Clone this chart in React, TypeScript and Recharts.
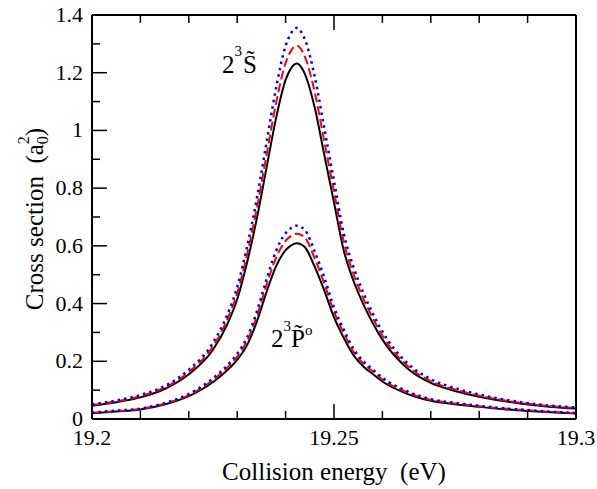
import { Line, LineChart, XAxis, YAxis } from "recharts";

// collision energy (eV)
const energy = [
  19.2, 19.205, 19.21, 19.215, 19.22, 19.225, 19.228, 19.23, 19.232, 19.234,
  19.236, 19.238, 19.24, 19.241, 19.2423, 19.2435, 19.244, 19.246, 19.248,
  19.25, 19.252, 19.254, 19.256, 19.258, 19.26, 19.265, 19.27, 19.275, 19.28,
  19.285, 19.29, 19.295, 19.3,
];

// 2^3 S~ resonance
const sBlack = [
  0.046, 0.058, 0.075, 0.104, 0.155, 0.24, 0.33, 0.415, 0.54, 0.69, 0.865,
  1.04, 1.175, 1.212, 1.232, 1.212, 1.195, 1.08, 0.915, 0.75, 0.585, 0.48,
  0.4, 0.333, 0.275, 0.178, 0.125, 0.097, 0.077, 0.062, 0.05, 0.042, 0.036,
];
const sRed = [
  0.048, 0.061, 0.079, 0.109, 0.163, 0.252, 0.347, 0.436, 0.567, 0.725,
  0.908, 1.092, 1.234, 1.273, 1.294, 1.273, 1.255, 1.134, 0.961, 0.788,
  0.614, 0.504, 0.42, 0.35, 0.289, 0.187, 0.131, 0.102, 0.081, 0.065, 0.053,
  0.044, 0.038,
];
const sBlue = [
  0.051, 0.064, 0.083, 0.114, 0.171, 0.264, 0.363, 0.457, 0.594, 0.759,
  0.952, 1.144, 1.293, 1.333, 1.355, 1.333, 1.315, 1.188, 1.007, 0.825,
  0.644, 0.528, 0.44, 0.366, 0.303, 0.196, 0.138, 0.107, 0.085, 0.068,
  0.055, 0.046, 0.04,
];

// 2^3 P~o resonance
const pBlack = [
  0.02, 0.026, 0.033, 0.05, 0.079, 0.128, 0.17, 0.205, 0.255, 0.335, 0.437,
  0.528, 0.585, 0.6, 0.609, 0.602, 0.595, 0.528, 0.445, 0.352, 0.282,
  0.222, 0.183, 0.156, 0.13, 0.088, 0.063, 0.051, 0.042, 0.034, 0.028, 0.023,
  0.019,
];
const pRed = [
  0.021, 0.027, 0.035, 0.053, 0.083, 0.135, 0.179, 0.216, 0.269, 0.353,
  0.461, 0.557, 0.617, 0.633, 0.642, 0.635, 0.628, 0.557, 0.469, 0.371,
  0.298, 0.234, 0.193, 0.165, 0.137, 0.093, 0.066, 0.054, 0.044, 0.036,
  0.03, 0.024, 0.02,
];
const pBlue = [
  0.022, 0.029, 0.036, 0.055, 0.087, 0.141, 0.187, 0.226, 0.281, 0.369,
  0.481, 0.581, 0.644, 0.66, 0.67, 0.662, 0.655, 0.581, 0.49, 0.387, 0.31,
  0.244, 0.201, 0.172, 0.143, 0.097, 0.069, 0.056, 0.046, 0.037, 0.031,
  0.025, 0.021,
];

const xTicks = [
  19.2, 19.21, 19.22, 19.23, 19.24, 19.25, 19.26, 19.27, 19.28, 19.29, 19.3,
];
const xLabels = ["19.2", "19.25", "19.3"];
const yTicks = [
  0, 0.1, 0.2, 0.3, 0.4, 0.5, 0.6, 0.7, 0.8, 0.9, 1, 1.1, 1.2, 1.3, 1.4,
];
const yLabels = ["0", "0.2", "0.4", "0.6", "0.8", "1", "1.2", "1.4"];

const data = energy.map((e, i) => ({
  e,
  s1: sBlack[i],
  s2: sRed[i],
  s3: sBlue[i],
  p1: pBlack[i],
  p2: pRed[i],
  p3: pBlue[i],
}));

const FONT = '"Liberation Serif", "Times New Roman", serif';
const MAJOR = 15;
const MINOR = 8;

const fmt = (v: number) => String(Math.round(v * 1000) / 1000);

function tickFactory(side: "bottom" | "top" | "left" | "right") {
  return (props: any) => {
    const { x, y, payload } = props;
    const label = fmt(payload.value);
    const isX = side === "bottom" || side === "top";
    const major = isX ? xLabels.includes(label) : yLabels.includes(label);
    const len = major ? MAJOR : MINOR;
    let x2 = x;
    let y2 = y;
    if (side === "bottom") y2 = y - len;
    if (side === "top") y2 = y + len;
    if (side === "left") x2 = x + len;
    if (side === "right") x2 = x - len;
    return (
      <g>
        <line x1={x} y1={y} x2={x2} y2={y2} stroke="#000" strokeWidth={1.5} />
        {major && side === "bottom" && (
          <text
            x={x}
            y={y + 26}
            textAnchor="middle"
            fontSize={22}
            fontFamily={FONT}
            fill="#000"
          >
            {label}
          </text>
        )}
        {major && side === "left" && (
          <text
            x={x - 9}
            y={y + 7}
            textAnchor="end"
            fontSize={22}
            fontFamily={FONT}
            fill="#000"
          >
            {label}
          </text>
        )}
      </g>
    );
  };
}

const axisLine = { stroke: "#000", strokeWidth: 2 };

export default function App() {
  return (
    <div style={{ position: "absolute", left: 0, top: 0 }}>
      <LineChart
        width={597}
        height={489}
        data={data}
        margin={{ top: 14, right: 20, bottom: 69, left: 91 }}
      >
        <XAxis
          xAxisId="b"
          dataKey="e"
          type="number"
          domain={[19.2, 19.3]}
          ticks={xTicks}
          interval={0}
          height={1}
          tickSize={0}
          tickMargin={0}
          tickLine={false}
          axisLine={axisLine}
          tick={tickFactory("bottom")}
        />
        <XAxis
          xAxisId="t"
          orientation="top"
          dataKey="e"
          type="number"
          domain={[19.2, 19.3]}
          ticks={xTicks}
          interval={0}
          height={1}
          tickSize={0}
          tickMargin={0}
          tickLine={false}
          axisLine={axisLine}
          tick={tickFactory("top")}
        />
        <YAxis
          yAxisId="l"
          type="number"
          domain={[0, 1.4]}
          ticks={yTicks}
          interval={0}
          width={1}
          tickSize={0}
          tickMargin={0}
          tickLine={false}
          axisLine={axisLine}
          tick={tickFactory("left")}
        />
        <YAxis
          yAxisId="r"
          orientation="right"
          type="number"
          domain={[0, 1.4]}
          ticks={yTicks}
          interval={0}
          width={1}
          tickSize={0}
          tickMargin={0}
          tickLine={false}
          axisLine={axisLine}
          tick={tickFactory("right")}
        />
        {(["s", "p"] as const).map((k) => [
          <Line
            key={k + "1"}
            xAxisId="b"
            yAxisId="l"
            dataKey={k + "1"}
            type="monotone"
            stroke="#000"
            strokeWidth={2}
            dot={false}
            isAnimationActive={false}
          />,
          <Line
            key={k + "2"}
            xAxisId="b"
            yAxisId="l"
            dataKey={k + "2"}
            type="monotone"
            stroke="#ff0000"
            strokeWidth={2}
            strokeDasharray="9 4"
            dot={false}
            isAnimationActive={false}
          />,
          <Line
            key={k + "3"}
            xAxisId="b"
            yAxisId="l"
            dataKey={k + "3"}
            type="monotone"
            stroke="#0000ff"
            strokeWidth={2.5}
            strokeDasharray="2.5 4"
            dot={false}
            isAnimationActive={false}
          />,
        ])}
        <text x={222} y={73} fontSize={25} fontFamily={FONT} fill="#000">
          2
          <tspan fontSize={15} dy={-17}>
            3
          </tspan>
          <tspan dy={17} dx={1}>
            {"S\u0303"}
          </tspan>
        </text>
        <text x={271} y={347} fontSize={25} fontFamily={FONT} fill="#000">
          2
          <tspan fontSize={15} dy={-16}>
            3
          </tspan>
          <tspan dy={16}>{"P\u0303"}</tspan>
          <tspan fontSize={15} dy={-12}>
            o
          </tspan>
        </text>
        <text
          x={334}
          y={480}
          textAnchor="middle"
          fontSize={25}
          fontFamily={FONT}
          fill="#000"
          style={{ whiteSpace: "pre" }}
        >
          {"Collision energy  (eV)"}
        </text>
        <text
          transform="translate(43, 219) rotate(-90)"
          textAnchor="middle"
          fontSize={25}
          fontFamily={FONT}
          fill="#000"
          style={{ whiteSpace: "pre" }}
        >
          {"Cross section  (a"}
          <tspan fontSize={16} dy={5}>
            0
          </tspan>
          <tspan fontSize={16} dx={-8} dy={-19}>
            2
          </tspan>
          <tspan dy={14}>)</tspan>
        </text>
      </LineChart>
    </div>
  );
}
